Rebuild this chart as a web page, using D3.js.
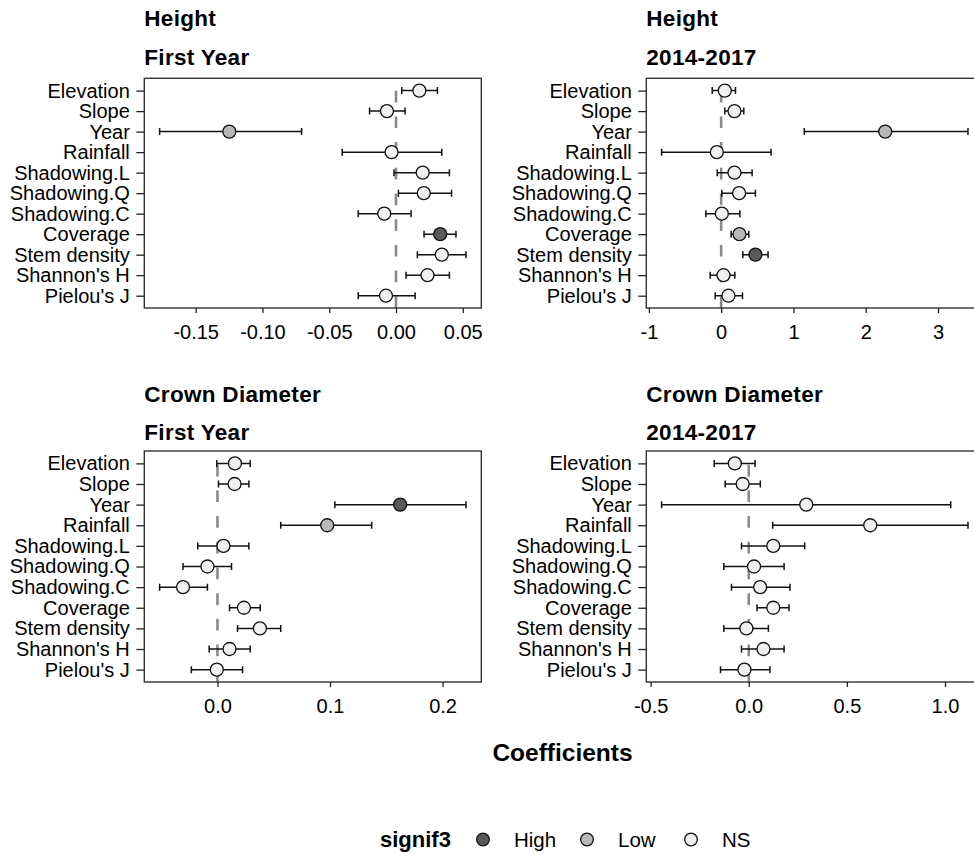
<!DOCTYPE html>
<html>
<head>
<meta charset="utf-8">
<script src="https://cdn.jsdelivr.net/npm/d3@7"></script>
<style>
  html, body { margin: 0; padding: 0; background: #fff; }
  svg { display: block; font-family: "Liberation Sans", Arial, sans-serif; }
</style>
</head>
<body>
<svg id="chart" width="974" height="854"></svg>
<script>
// ---------- data ----------
const terms = ["Elevation", "Slope", "Year", "Rainfall", "Shadowing.L", "Shadowing.Q",
               "Shadowing.C", "Coverage", "Stem density", "Shannon's H", "Pielou's J"];

const sigLevels = ["High", "Low", "NS"];
const sigColors = ["#5a5a5a", "#b8b8b8", "#f0f0f0"];

// Height - First Year
const hFirstEst = [0.0175, -0.0068, -0.1248, -0.0033, 0.0200, 0.0208, -0.0088, 0.0331, 0.0343, 0.0236, -0.0075];
const hFirstLo  = [0.0043, -0.0198, -0.1770, -0.0403, -0.0015, 0.0018, -0.0283, 0.0210, 0.0160, 0.0075, -0.0283];
const hFirstHi  = [0.0310, 0.0068, -0.0707, 0.0343, 0.0400, 0.0416, 0.0113, 0.0449, 0.0524, 0.0400, 0.0143];
const hFirstSig = ["NS", "NS", "Low", "NS", "NS", "NS", "NS", "High", "NS", "NS", "NS"];
const hFirstTicks = [-0.15, -0.10, -0.05, 0.00, 0.05];

// Height - 2014-2017
const hPeriodEst = [0.050, 0.184, 2.270, -0.060, 0.184, 0.248, 0.009, 0.253, 0.474, 0.032, 0.101];
const hPeriodLo  = [-0.124, 0.050, 1.150, -0.824, -0.055, 0.009, -0.212, 0.138, 0.299, -0.152, -0.083];
const hPeriodHi  = [0.198, 0.313, 3.415, 0.690, 0.428, 0.474, 0.258, 0.382, 0.649, 0.189, 0.295];
const hPeriodSig = ["NS", "NS", "Low", "NS", "NS", "NS", "NS", "Low", "High", "NS", "NS"];
const hPeriodTicks = [-1, 0, 1, 2, 3];

// Crown Diameter - First Year
const cFirstEst = [0.0155, 0.0152, 0.1623, 0.0975, 0.0053, -0.0089, -0.0306, 0.0235, 0.0377, 0.0107, -0.0006];
const cFirstLo  = [-0.0006, 0.0009, 0.1043, 0.0562, -0.0175, -0.0306, -0.0514, 0.0107, 0.0178, -0.0074, -0.0232];
const cFirstHi  = [0.0291, 0.0279, 0.2208, 0.1370, 0.0279, 0.0125, -0.0089, 0.0380, 0.0562, 0.0291, 0.0223];
const cFirstSig = ["NS", "NS", "High", "Low", "NS", "NS", "NS", "NS", "NS", "NS", "NS"];
const cFirstTicks = [0.0, 0.1, 0.2];

// Crown Diameter - 2014-2017
const cPeriodEst = [-0.071, -0.031, 0.293, 0.619, 0.125, 0.027, 0.058, 0.125, -0.012, 0.075, -0.022];
const cPeriodLo  = [-0.176, -0.120, -0.444, 0.122, -0.037, -0.127, -0.088, 0.042, -0.127, -0.037, -0.144];
const cPeriodHi  = [0.032, 0.059, 1.029, 1.117, 0.285, 0.180, 0.210, 0.205, 0.100, 0.180, 0.108];
const cPeriodSig = ["NS", "NS", "NS", "NS", "NS", "NS", "NS", "NS", "NS", "NS", "NS"];
const cPeriodTicks = [-0.5, 0.0, 0.5, 1.0];

const panelTitles1 = ["Height", "Height", "Crown Diameter", "Crown Diameter"];
const panelTitles2 = ["First Year", "2014-2017", "First Year", "2014-2017"];
const tickFormats = [".2f", "d", ".1f", ".1f"];
const xTitle = "Coefficients";
const legendTitle = "signif3";

// ---------- drawing ----------
const svg = d3.select("#chart");
svg.append("rect").attr("width", 974).attr("height", 854).attr("fill", "#fff");

const loc = d3.formatLocale({decimal: ".", thousands: ",", grouping: [3], currency: ["", ""], minus: "-"});
const fill = d3.scaleOrdinal().domain(sigLevels).range(sigColors);

const panels = [
  {est: hFirstEst, lo: hFirstLo, hi: hFirstHi, sig: hFirstSig, ticks: hFirstTicks},
  {est: hPeriodEst, lo: hPeriodLo, hi: hPeriodHi, sig: hPeriodSig, ticks: hPeriodTicks},
  {est: cFirstEst, lo: cFirstLo, hi: cFirstHi, sig: cFirstSig, ticks: cFirstTicks},
  {est: cPeriodEst, lo: cPeriodLo, hi: cPeriodHi, sig: cPeriodSig, ticks: cPeriodTicks}
];

// layout of the 2x2 grid
const colLeft = [144.3, 646.3];
const panelW = 337;
const rowTop = [78.3, 451];
const rowBot = [308, 682];
const AX = "#222";
const FS = 20;

panels.forEach((p, i) => {
  const col = i % 2, row = Math.floor(i / 2);
  const x0 = colLeft[col], x1 = x0 + panelW, y0 = rowTop[row], y1 = rowBot[row];

  const lo = d3.min(p.lo), hi = d3.max(p.hi);
  const pad = (hi - lo) * 0.05;
  const x = d3.scaleLinear().domain([lo - pad, hi + pad]).range([x0, x1]);
  const y = d3.scalePoint().domain(terms).range([y0, y1]).padding(0.6);

  const g = svg.append("g");

  // titles
  g.append("text").attr("x", x0).attr("y", row === 0 ? 26 : 401.5)
    .attr("font-size", 22.5).attr("font-weight", "bold").attr("letter-spacing", 0.3)
    .attr("fill", "#000").text(panelTitles1[i]);
  g.append("text").attr("x", x0).attr("y", row === 0 ? 65 : 440)
    .attr("font-size", 22.5).attr("font-weight", "bold").attr("letter-spacing", 0.3)
    .attr("fill", "#000").text(panelTitles2[i]);

  // clipped plotting area
  const clipId = "clip" + i;
  svg.append("clipPath").attr("id", clipId)
    .append("rect").attr("x", x0).attr("y", y0).attr("width", panelW).attr("height", y1 - y0);
  const pg = g.append("g").attr("clip-path", `url(#${clipId})`);

  // zero line (dashed, drawn from bottom up)
  pg.append("line")
    .attr("x1", x(0)).attr("x2", x(0)).attr("y1", y1).attr("y2", y0)
    .attr("stroke", "#8a8a8a").attr("stroke-width", 2.6)
    .attr("stroke-dasharray", "11.7,14");

  const idx = d3.range(terms.length);
  // error bars
  const eb = pg.selectAll("g.eb").data(idx).join("g").attr("class", "eb")
    .attr("stroke", "#111").attr("stroke-width", 1.5).attr("fill", "none");
  eb.append("line")
    .attr("x1", d => x(p.lo[d])).attr("x2", d => x(p.hi[d]))
    .attr("y1", d => y(terms[d])).attr("y2", d => y(terms[d]));
  eb.append("line")
    .attr("x1", d => x(p.lo[d])).attr("x2", d => x(p.lo[d]))
    .attr("y1", d => y(terms[d]) - 3.5).attr("y2", d => y(terms[d]) + 3.5);
  eb.append("line")
    .attr("x1", d => x(p.hi[d])).attr("x2", d => x(p.hi[d]))
    .attr("y1", d => y(terms[d]) - 3.5).attr("y2", d => y(terms[d]) + 3.5);

  // points
  pg.selectAll("circle.pt").data(idx).join("circle").attr("class", "pt")
    .attr("cx", d => x(p.est[d])).attr("cy", d => y(terms[d])).attr("r", 6.5)
    .attr("fill", d => fill(p.sig[d])).attr("stroke", "#111").attr("stroke-width", 1.3);

  // panel border
  g.append("rect").attr("x", x0).attr("y", y0).attr("width", panelW).attr("height", y1 - y0)
    .attr("fill", "none").attr("stroke", "#333").attr("stroke-width", 1.4);

  // x axis
  const xa = g.append("g").attr("transform", `translate(0,${y1})`)
    .call(d3.axisBottom(x).tickValues(p.ticks).tickFormat(loc.format(tickFormats[i]))
      .tickSize(5).tickSizeOuter(0).tickPadding(12));
  xa.select(".domain").remove();
  xa.selectAll(".tick line").attr("stroke", AX).attr("stroke-width", 1.3);
  xa.selectAll(".tick text").attr("font-size", FS).attr("fill", "#000")
    .attr("font-family", "'Liberation Sans', Arial, sans-serif");

  // y axis
  const ya = g.append("g").attr("transform", `translate(${x0},0)`)
    .call(d3.axisLeft(y).tickSize(8).tickSizeOuter(0).tickPadding(6.5));
  ya.select(".domain").remove();
  ya.selectAll(".tick line").attr("stroke", AX).attr("stroke-width", 1.3);
  ya.selectAll(".tick text").attr("font-size", FS).attr("fill", "#000")
    .attr("font-family", "'Liberation Sans', Arial, sans-serif");
});

// x title
svg.append("text").attr("x", 562.5).attr("y", 761).attr("text-anchor", "middle")
  .attr("font-size", 24.5).attr("font-weight", "bold").attr("fill", "#000").text(xTitle);

// legend
const lg = svg.append("g");
lg.append("text").attr("x", 380).attr("y", 847).attr("font-size", 22)
  .attr("font-weight", "bold").attr("fill", "#000").text(legendTitle);
const legX = [483, 587, 691];
sigLevels.forEach((s, k) => {
  lg.append("circle").attr("cx", legX[k]).attr("cy", 839.5).attr("r", 6.3)
    .attr("fill", fill(s)).attr("stroke", "#111").attr("stroke-width", 1.3);
  lg.append("text").attr("x", legX[k] + 31).attr("y", 847).attr("font-size", 20.5)
    .attr("fill", "#000").text(s);
});
</script>
</body>
</html>
